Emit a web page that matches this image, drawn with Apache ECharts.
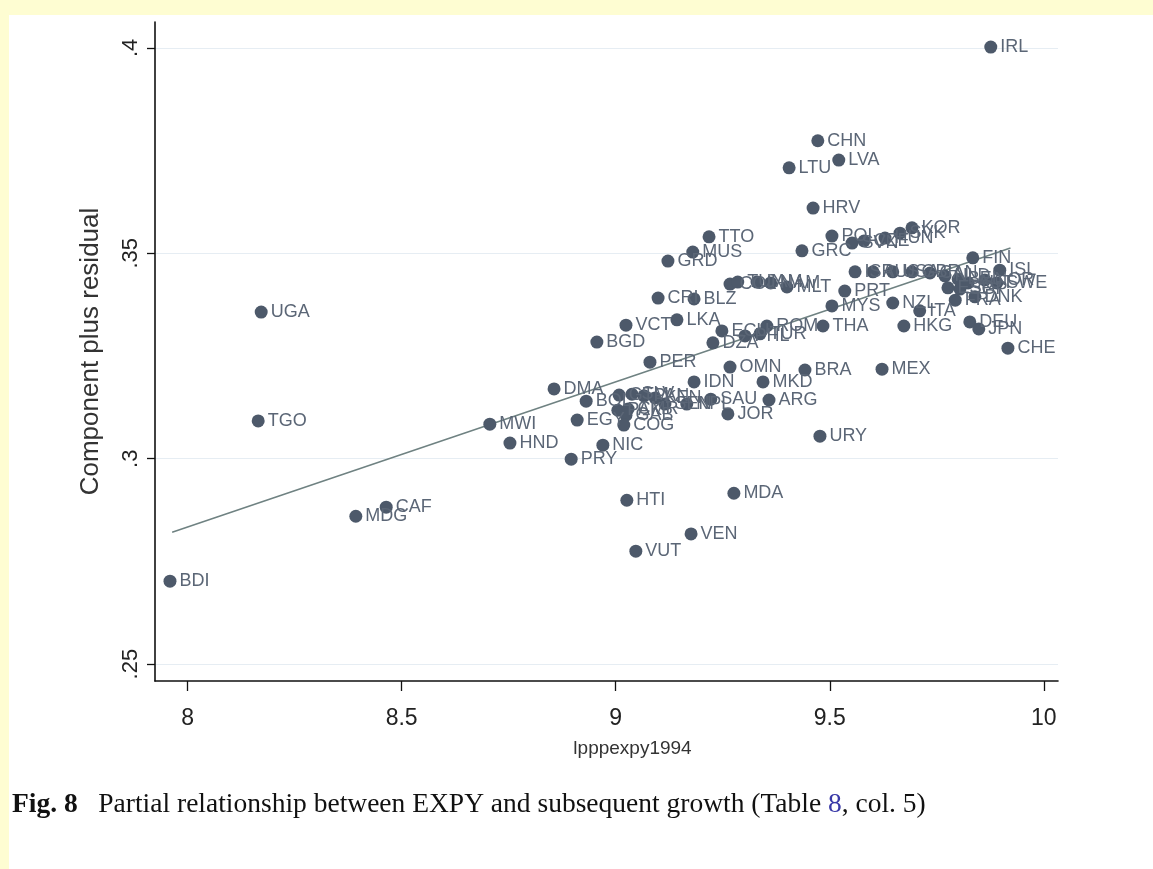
<!DOCTYPE html>
<html>
<head>
<meta charset="utf-8">
<script src="https://cdn.jsdelivr.net/npm/echarts@6/dist/echarts.min.js"></script>
<style>
  html, body { margin: 0; padding: 0; background: #fefdd2; }
  #paper { position: absolute; left: 9px; top: 15px; width: 1144px; height: 854px; background: #ffffff; }
  #chart { position: absolute; left: 0; top: 0; width: 1153px; height: 869px; }
</style>
</head>
<body>
<div id="paper"></div>
<div id="chart"></div>
<script>
// ---- data ----
const countries = ['IRL','CHN','LVA','LTU','HRV','TTO','MUS','GRD','GRC','POL','SVN','CZE','HUN','SVK','KOR',
  'UGA','TGO','BDI','MDG','CAF','MWI','HND','DMA','PRY','NIC','BGD','VCT','CRI','BLZ','LKA',
  'ECU','DZA','ROM','TUR','PHL','THA','MYS','PRT','PER','OMN','BRA','IDN','MKD','MEX','HKG',
  'URY','MDA','HTI','VEN','VUT','JOR','ARG','SAU','NPL','EGY','BOL','GTM','SLV','PAN','KEN',
  'SEN','PAK','CMR','GAB','COG','ISR','AUS','USA','GBR','CAN','NLD','BEL','AUT','NOR','SWE',
  'ISL','FIN','SGP','ESP','DNK','FRA','ITA','NZL','DEU','JPN','CHE','COL','TUN','JAM','NAM','MLT'];
const expy = [9.876,9.472,9.521,9.405,9.461,9.218,9.180,9.122,9.435,9.505,9.552,9.580,9.629,9.664,9.692,
  8.172,8.165,7.959,8.393,8.464,8.706,8.753,8.856,8.896,8.970,8.956,9.024,9.099,9.183,9.143,
  9.248,9.227,9.353,9.337,9.302,9.484,9.505,9.535,9.080,9.267,9.442,9.183,9.344,9.622,9.673,
  9.477,9.276,9.026,9.176,9.047,9.262,9.358,9.222,9.166,8.910,8.931,9.008,9.038,9.066,9.092,
  9.115,9.005,9.029,9.024,9.019,9.559,9.601,9.647,9.692,9.734,9.769,9.800,9.823,9.862,9.890,
  9.897,9.834,9.804,9.776,9.839,9.793,9.710,9.647,9.827,9.848,9.916,9.267,9.285,9.330,9.362,9.400];
const cpr = [0.4002,0.3774,0.3727,0.3708,0.3610,0.3540,0.3503,0.3481,0.3506,0.3542,0.3525,0.3530,0.3537,0.3549,0.3562,
  0.3357,0.3092,0.2702,0.2860,0.2882,0.3084,0.3038,0.3170,0.2999,0.3033,0.3284,0.3325,0.3391,0.3389,0.3338,
  0.3311,0.3282,0.3323,0.3304,0.3299,0.3323,0.3372,0.3408,0.3235,0.3223,0.3216,0.3187,0.3187,0.3218,0.3323,
  0.3055,0.2916,0.2899,0.2817,0.2775,0.3109,0.3143,0.3145,0.3133,0.3094,0.3140,0.3155,0.3157,0.3153,0.3148,
  0.3133,0.3118,0.3121,0.3106,0.3082,0.3455,0.3455,0.3455,0.3455,0.3452,0.3445,0.3437,0.3428,0.3435,0.3428,
  0.3459,0.3489,0.3413,0.3416,0.3394,0.3386,0.3360,0.3379,0.3333,0.3316,0.3269,0.3425,0.3430,0.3430,0.3428,0.3418];
const fitX = [7.964, 9.922];
const fitY = [0.2821, 0.3513];
const xTicks = [8, 8.5, 9, 9.5, 10];
const xTickLabels = ['8', '8.5', '9', '9.5', '10'];
const yTicks = [0.25, 0.3, 0.35, 0.4];
const yTickLabels = ['.25', '.3', '.35', '.4'];
const xTitle = 'lpppexpy1994';
const yTitle = 'Component plus residual';

const pointData = expy.map((x, i) => ({ name: countries[i], value: [x, cpr[i]] }));
const fitData = fitX.map((x, i) => [x, fitY[i]]);

const chart = echarts.init(document.getElementById('chart'), null, { renderer: 'canvas' });
const FONT = '"Liberation Sans", Arial, sans-serif';
const MARK = '#4d596a';
const TEXT = '#5b6676';

chart.setOption({
  backgroundColor: 'transparent',
  animation: false,
  textStyle: { fontFamily: FONT },
  grid: { left: 155, right: 95, top: 22, bottom: 188, containLabel: false },
  xAxis: {
    type: 'value', min: 7.924, max: 10.033,
    name: xTitle, nameLocation: 'middle', nameGap: 58,
    nameTextStyle: { fontSize: 19, color: '#333', fontFamily: FONT, padding: [0, 0, 0, 52] },
    axisLine: { show: true, onZero: false, lineStyle: { color: '#111', width: 1.6 } },
    axisTick: { show: true, customValues: xTicks, length: 10, lineStyle: { color: '#111', width: 1.3 } },
    axisLabel: { customValues: xTicks, fontSize: 23, color: '#222', margin: 26,
      formatter: v => xTickLabels[xTicks.findIndex(t => Math.abs(t - v) < 1e-9)] },
    splitLine: { show: false }
  },
  yAxis: {
    type: 'value', min: 0.2459, max: 0.4063,
    name: yTitle, nameLocation: 'middle', nameGap: 51,
    nameTextStyle: { fontSize: 26, color: '#333', fontFamily: FONT },
    axisLine: { show: true, onZero: false, lineStyle: { color: '#111', width: 1.6 } },
    axisTick: { show: true, customValues: yTicks, length: 8, lineStyle: { color: '#111', width: 1.3 } },
    axisLabel: { customValues: yTicks, rotate: 90, fontSize: 22, color: '#222', margin: 13,
      formatter: v => yTickLabels[yTicks.findIndex(t => Math.abs(t - v) < 1e-9)] },
    splitLine: { show: true, lineStyle: { color: '#e6edf3', width: 1.2 } }
  },
  series: [
    {
      type: 'line', data: fitData, showSymbol: false, symbol: 'none', silent: true,
      lineStyle: { color: '#6f8282', width: 1.5 }, z: 1
    },
    {
      type: 'scatter', data: pointData, symbolSize: 13,
      itemStyle: { color: MARK, opacity: 1 },
      label: { show: true, position: 'right', distance: 3, formatter: p => p.name,
        fontSize: 18, color: TEXT, fontFamily: FONT },
      z: 3
    }
  ],
  graphic: [
    {
      type: 'text', left: 12, top: 791, z: 10,
      style: {
        text: '{b|Fig. 8}   Partial relationship between EXPY and subsequent growth (Table {c|8}, col. 5)',
        font: '27.5px "Liberation Serif", "Times New Roman", serif', fill: '#111',
        rich: {
          b: { fontFamily: '"Liberation Serif", serif', fontSize: 27.5, fontWeight: 'bold', fill: '#111' },
          c: { fontFamily: '"Liberation Serif", serif', fontSize: 27.5, fill: '#3a3aa8' }
        }
      }
    }
  ]
});
</script>
</body>
</html>
